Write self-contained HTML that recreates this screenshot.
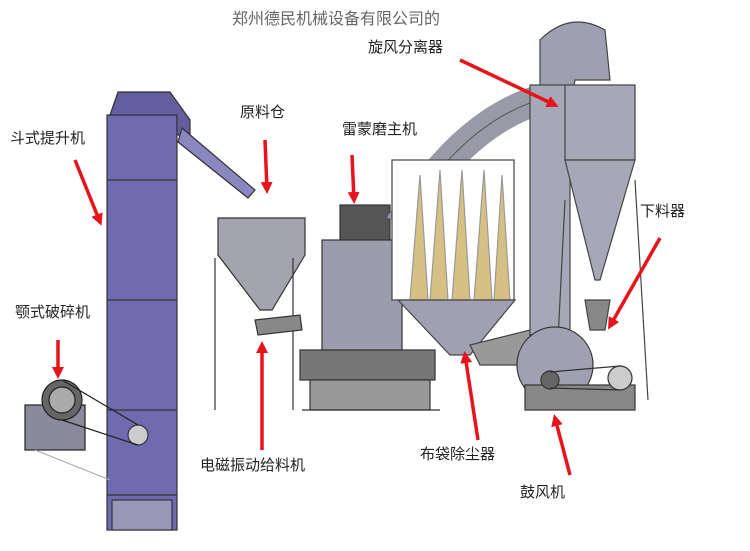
<!DOCTYPE html>
<html><head><meta charset="utf-8">
<style>
html,body{margin:0;padding:0;background:#fff;}
svg{display:block}
text{font-family:"Liberation Sans","Noto Sans CJK SC",sans-serif;font-size:15px;fill:#222}
</style></head>
<body>
<svg width="750" height="551" viewBox="0 0 750 551" xmlns="http://www.w3.org/2000/svg">
<defs>
<marker id="ah" markerWidth="12" markerHeight="12" refX="8" refY="6" orient="auto" markerUnits="userSpaceOnUse">
<path d="M0,0 L12,6 L0,12 Z" fill="#e8141b"/></marker>
</defs>
<rect width="750" height="551" fill="#fff"/>
<text x="232" y="24" style="font-size:16px;fill:#666">郑州德民机械设备有限公司的</text>

<!-- bucket elevator -->
<g stroke="#333" stroke-width="1.2">
<rect x="107" y="115" width="70" height="415" fill="#6f6bb0"/>
<path d="M110,115 L118,92 L170,92 L190,120 L190,135 L177,135 L177,115 Z" fill="#625ea0"/>
<path d="M182,128 L255,190 L248,198 L178,142 Z" fill="#8a86bf"/>
<line x1="107" y1="180" x2="177" y2="180"/><line x1="107" y1="300" x2="177" y2="300"/>
<line x1="107" y1="410" x2="177" y2="410"/><line x1="107" y1="495" x2="177" y2="495"/>
<rect x="112" y="500" width="60" height="30" fill="#9a98b8"/>
<circle cx="138" cy="435" r="10" fill="#ccc"/>
</g>
<!-- jaw crusher -->
<g stroke="#222" stroke-width="1.2" fill="#888">
<rect x="25" y="405" width="60" height="45" fill="#8a8a9a"/>
<circle cx="62" cy="400" r="20" fill="#666"/>
<circle cx="62" cy="400" r="13" fill="#aaa"/>
<path d="M62,380 L138,425 M62,420 L138,445" fill="none"/>
<line x1="35" y1="450" x2="110" y2="480" stroke="#aaa"/>
</g>
<!-- hopper -->
<g stroke="#333" stroke-width="1.2" fill="#a4a4ae">
<path d="M218,218 L305,218 L305,255 L272,310 L260,310 L218,255 Z"/>
<line x1="215" y1="258" x2="215" y2="410" /><line x1="293" y1="258" x2="293" y2="410"/>
<path d="M255,320 L300,315 L302,330 L258,335 Z" fill="#888"/>
</g>
<!-- mill -->
<g stroke="#333" stroke-width="1.2" fill="#9c9cac">
<rect x="340" y="205" width="50" height="35" fill="#555"/>
<rect x="322" y="240" width="80" height="110"/>
<rect x="300" y="350" width="135" height="30" fill="#777"/>
<rect x="310" y="380" width="120" height="30" fill="#999"/>
<line x1="302" y1="410" x2="440" y2="410"/>
</g>
<!-- duct -->
<path d="M400,225 Q470,110 560,95" fill="none" stroke="#999aa8" stroke-width="30"/>
<path d="M400,225 Q470,110 560,95" fill="none" stroke="#555" stroke-width="1"/>
<!-- dust collector -->
<g stroke="#444" stroke-width="1.2">
<rect x="392" y="160" width="122" height="140" fill="#fff"/>
<g fill="#d6c084" stroke="#999">
<path d="M410,300 L420,175 L428,300Z"/><path d="M430,300 L440,170 L448,300Z"/><path d="M452,300 L462,170 L470,300Z"/><path d="M474,300 L484,170 L492,300Z"/><path d="M494,300 L502,175 L510,300Z"/>
</g>
<path d="M398,300 L515,300 L470,355 L450,355 Z" fill="#a0a0b0"/>
<path d="M470,345 L530,330 L530,365 L480,365Z" fill="#999"/>
</g>
<!-- cyclone -->
<g stroke="#444" stroke-width="1.2" fill="#a6a8b8">
<path d="M540,110 L540,40 Q570,10 605,30 L610,80 L575,80 L570,110 Z" fill="#9ea0b2"/>
<rect x="530" y="85" width="40" height="250"/>
<rect x="565" y="85" width="70" height="75"/>
<path d="M565,160 L635,160 L600,280 L595,280 Z"/>
<path d="M585,300 L610,300 L605,330 L590,330Z" fill="#888"/>
<line x1="635" y1="180" x2="648" y2="400"/><line x1="565" y1="200" x2="555" y2="400"/>
</g>
<!-- fan -->
<g stroke="#333" stroke-width="1.2" fill="#a0a0b0">
<circle cx="555" cy="365" r="38"/>
<rect x="525" y="385" width="110" height="25" fill="#888"/>
<circle cx="620" cy="378" r="12" fill="#ccc"/>
<circle cx="550" cy="380" r="9" fill="#666"/>
<line x1="550" y1="372" x2="620" y2="366"/><line x1="550" y1="388" x2="620" y2="390"/>
</g>

<!-- labels -->
<text x="368" y="52">旋风分离器</text>
<text x="10" y="143">斗式提升机</text>
<text x="240" y="117">原料仓</text>
<text x="342" y="134">雷蒙磨主机</text>
<text x="640" y="216">下料器</text>
<text x="15" y="317">颚式破碎机</text>
<text x="200" y="470">电磁振动给料机</text>
<text x="420" y="459">布袋除尘器</text>
<text x="520" y="497">鼓风机</text>

<!-- arrows -->
<g stroke="#e8141b" stroke-width="3.5" fill="none" marker-end="url(#ah)">
<line x1="460" y1="60" x2="555" y2="105"/>
<line x1="75" y1="160" x2="100" y2="222"/>
<line x1="265" y1="140" x2="267" y2="190"/>
<line x1="352" y1="155" x2="354" y2="200"/>
<line x1="660" y1="238" x2="610" y2="326"/>
<line x1="58" y1="340" x2="58" y2="375"/>
<line x1="262" y1="450" x2="262" y2="345"/>
<line x1="478" y1="440" x2="465" y2="355"/>
<line x1="570" y1="475" x2="555" y2="418"/>
</g>
</svg>
</body></html>
